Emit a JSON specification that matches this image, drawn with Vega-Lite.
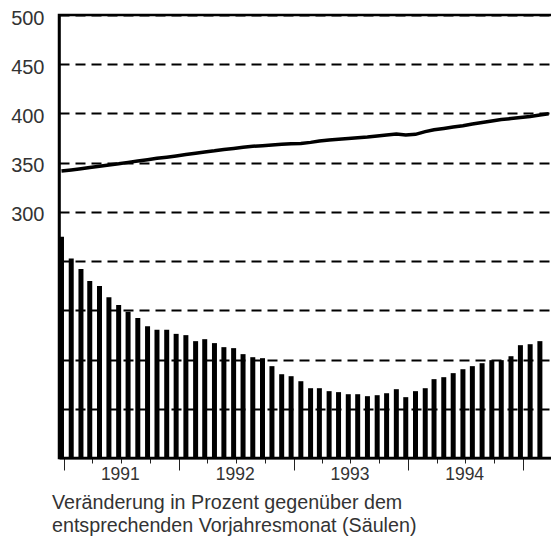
{
  "$schema": "https://vega.github.io/schema/vega-lite/v6.json",
  "width": 495,
  "height": 443,
  "autosize": "none",
  "padding": {"left": 59, "top": 15, "right": 0, "bottom": 82},
  "background": "white",
  "config": {
    "view": {"stroke": "black", "strokeWidth": 2.5},
    "font": "Liberation Sans"
  },
  "title": {
    "text": ["Veränderung in Prozent gegenüber dem", "entsprechenden Vorjahresmonat (Säulen)"],
    "orient": "bottom",
    "anchor": "start",
    "frame": "group",
    "dx": -7,
    "offset": 3,
    "fontSize": 19.7,
    "fontWeight": "normal",
    "font": "Liberation Sans",
    "color": "#333333",
    "lineHeight": 23
  },
  "data": {
    "values": [
      {"monat": "1990-12-24", "saeulen": 274.7, "linie": 341.5},
      {"monat": "1991-01-24", "saeulen": 252.7, "linie": 342.6},
      {"monat": "1991-02-24", "saeulen": 241.9, "linie": 343.8},
      {"monat": "1991-03-24", "saeulen": 229.7, "linie": 345.0},
      {"monat": "1991-04-24", "saeulen": 224.6, "linie": 346.3},
      {"monat": "1991-05-24", "saeulen": 213.4, "linie": 347.6},
      {"monat": "1991-06-24", "saeulen": 205.3, "linie": 348.8},
      {"monat": "1991-07-24", "saeulen": 198.5, "linie": 350.3},
      {"monat": "1991-08-24", "saeulen": 192.1, "linie": 351.6},
      {"monat": "1991-09-24", "saeulen": 183.9, "linie": 353.0},
      {"monat": "1991-10-24", "saeulen": 180.2, "linie": 354.4},
      {"monat": "1991-11-24", "saeulen": 180.2, "linie": 355.6},
      {"monat": "1991-12-24", "saeulen": 176.1, "linie": 356.8},
      {"monat": "1992-01-24", "saeulen": 174.8, "linie": 358.2},
      {"monat": "1992-02-24", "saeulen": 168.7, "linie": 359.5},
      {"monat": "1992-03-24", "saeulen": 170.7, "linie": 360.8},
      {"monat": "1992-04-24", "saeulen": 166.7, "linie": 362.0},
      {"monat": "1992-05-24", "saeulen": 162.6, "linie": 363.4},
      {"monat": "1992-06-24", "saeulen": 161.6, "linie": 364.5},
      {"monat": "1992-07-24", "saeulen": 155.5, "linie": 365.6},
      {"monat": "1992-08-24", "saeulen": 152.4, "linie": 366.7},
      {"monat": "1992-09-24", "saeulen": 151.4, "linie": 367.3},
      {"monat": "1992-10-24", "saeulen": 143.3, "linie": 368.0},
      {"monat": "1992-11-24", "saeulen": 135.1, "linie": 368.6},
      {"monat": "1992-12-24", "saeulen": 133.1, "linie": 369.2},
      {"monat": "1993-01-24", "saeulen": 128.0, "linie": 369.5},
      {"monat": "1993-02-24", "saeulen": 120.9, "linie": 370.6},
      {"monat": "1993-03-24", "saeulen": 120.9, "linie": 371.9},
      {"monat": "1993-04-24", "saeulen": 117.9, "linie": 373.0},
      {"monat": "1993-05-24", "saeulen": 116.9, "linie": 373.8},
      {"monat": "1993-06-24", "saeulen": 114.8, "linie": 374.5},
      {"monat": "1993-07-24", "saeulen": 114.8, "linie": 375.2},
      {"monat": "1993-08-24", "saeulen": 112.8, "linie": 376.0},
      {"monat": "1993-09-24", "saeulen": 113.8, "linie": 377.2},
      {"monat": "1993-10-24", "saeulen": 115.8, "linie": 378.2},
      {"monat": "1993-11-24", "saeulen": 119.9, "linie": 379.1},
      {"monat": "1993-12-24", "saeulen": 111.8, "linie": 378.0},
      {"monat": "1994-01-24", "saeulen": 117.9, "linie": 378.8},
      {"monat": "1994-02-24", "saeulen": 120.9, "linie": 381.5},
      {"monat": "1994-03-24", "saeulen": 130.1, "linie": 383.4},
      {"monat": "1994-04-24", "saeulen": 132.1, "linie": 384.8},
      {"monat": "1994-05-24", "saeulen": 136.2, "linie": 386.2},
      {"monat": "1994-06-24", "saeulen": 140.2, "linie": 387.6},
      {"monat": "1994-07-24", "saeulen": 143.3, "linie": 389.2},
      {"monat": "1994-08-24", "saeulen": 146.3, "linie": 390.8},
      {"monat": "1994-09-24", "saeulen": 149.4, "linie": 392.4},
      {"monat": "1994-10-24", "saeulen": 149.4, "linie": 393.8},
      {"monat": "1994-11-24", "saeulen": 153.4, "linie": 394.8},
      {"monat": "1994-12-24", "saeulen": 164.6, "linie": 395.9},
      {"monat": "1995-01-24", "saeulen": 165.6, "linie": 397.0},
      {"monat": "1995-02-24", "saeulen": 168.7, "linie": 398.4},
      {"monat": "1995-03-24", "saeulen": null, "linie": 399.6}
    ]
  },
  "encoding": {
    "x": {
      "field": "monat",
      "type": "temporal",
      "title": null,
      "scale": {
        "type": "utc",
        "domain": [
          {"year": 1991, "month": 1, "date": 1, "utc": true},
          {"year": 1995, "month": 3, "date": 25, "utc": true}
        ],
        "nice": false
      },
      "axis": {
        "values": [
          {"year": 1991, "month": 1, "date": 1, "utc": true},
          {"year": 1991, "month": 4, "date": 1, "utc": true},
          {"year": 1991, "month": 7, "date": 1, "utc": true},
          {"year": 1991, "month": 10, "date": 1, "utc": true},
          {"year": 1992, "month": 1, "date": 1, "utc": true},
          {"year": 1992, "month": 4, "date": 1, "utc": true},
          {"year": 1992, "month": 7, "date": 1, "utc": true},
          {"year": 1992, "month": 10, "date": 1, "utc": true},
          {"year": 1993, "month": 1, "date": 1, "utc": true},
          {"year": 1993, "month": 4, "date": 1, "utc": true},
          {"year": 1993, "month": 7, "date": 1, "utc": true},
          {"year": 1993, "month": 10, "date": 1, "utc": true},
          {"year": 1994, "month": 1, "date": 1, "utc": true},
          {"year": 1994, "month": 4, "date": 1, "utc": true},
          {"year": 1994, "month": 7, "date": 1, "utc": true},
          {"year": 1994, "month": 10, "date": 1, "utc": true},
          {"year": 1995, "month": 1, "date": 1, "utc": true}
        ],
        "labelExpr": "utcmonth(datum.value) == 6 ? utcFormat(datum.value, '%Y') : ''",
        "grid": false,
        "domainColor": "black",
        "domainWidth": 2,
        "tickColor": "#222222",
        "tickWidth": 1,
        "tickSize": {"condition": {"test": "utcmonth(datum.value) == 0", "value": 12}, "value": 5},
        "labelPadding": 2,
        "labelOffset": -1,
        "labelFontSize": 17.5,
        "labelColor": "#333333",
        "labelFont": "Liberation Sans",
        "labelFlush": false,
        "labelOverlap": false
      }
    }
  },
  "layer": [
    {
      "mark": {"type": "bar", "color": "black", "size": 5, "clip": true},
      "encoding": {
        "y": {
          "field": "saeulen",
          "type": "quantitative",
          "title": null,
          "scale": {"domain": [50, 500], "nice": false, "zero": false},
          "axis": {
            "values": [100, 150, 200, 250, 300, 350, 400, 450, 500],
            "labelExpr": "datum.value >= 300 ? datum.label : ''",
            "grid": true,
            "gridColor": "black",
            "gridDash": [10, 6],
            "gridWidth": 2,
            "ticks": false,
            "domainColor": "black",
            "domainWidth": 2.5,
            "labelPadding": 15,
            "labelOffset": 3,
            "labelFontSize": 20,
            "labelColor": "#333333",
            "labelFont": "Liberation Sans"
          }
        },
        "y2": {"datum": 50}
      }
    },
    {
      "mark": {"type": "line", "color": "black", "strokeWidth": 3.5, "clip": true},
      "encoding": {
        "y": {"field": "linie", "type": "quantitative"}
      }
    }
  ]
}
